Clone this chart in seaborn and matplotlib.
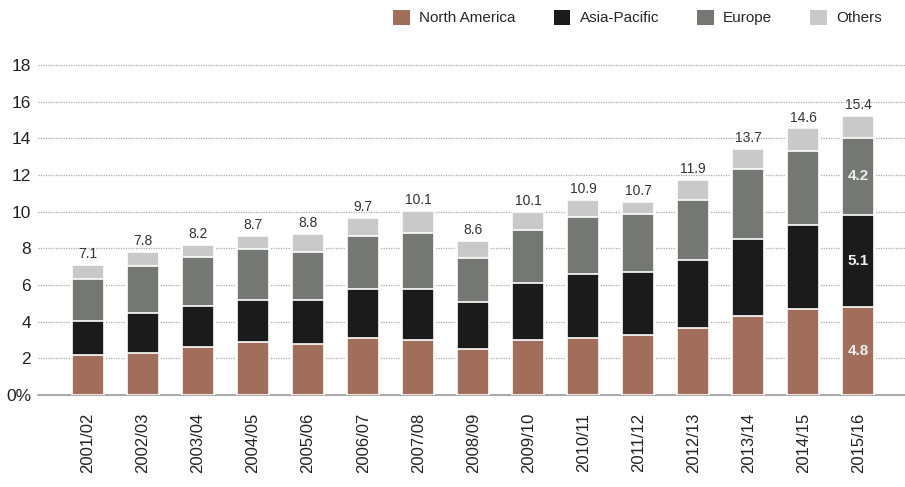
import numpy as np
import pandas as pd
import matplotlib
matplotlib.use("Agg")
import matplotlib.pyplot as plt
import seaborn as sns
from matplotlib.patches import Patch

# Data
seasons = ["2001/02", "2002/03", "2003/04", "2004/05", "2005/06", "2006/07", "2007/08",
           "2008/09", "2009/10", "2010/11", "2011/12", "2012/13", "2013/14", "2014/15", "2015/16"]
north_america = [2.2, 2.3, 2.6, 2.9, 2.8, 3.1, 3.0, 2.5, 3.0, 3.1, 3.25, 3.65, 4.3, 4.7, 4.8]
asia_pacific = [1.85, 2.15, 2.25, 2.3, 2.4, 2.7, 2.8, 2.55, 3.1, 3.5, 3.45, 3.7, 4.2, 4.6, 5.0]
europe = [2.3, 2.6, 2.7, 2.75, 2.6, 2.85, 3.05, 2.4, 2.9, 3.1, 3.2, 3.3, 3.85, 4.0, 4.25]
others = [0.75, 0.75, 0.65, 0.75, 1.0, 1.0, 1.2, 0.95, 1.0, 0.95, 0.65, 1.1, 1.1, 1.25, 1.2]
total_labels = ["7.1", "7.8", "8.2", "8.7", "8.8", "9.7", "10.1", "8.6", "10.1", "10.9",
                "10.7", "11.9", "13.7", "14.6", "15.4"]
last_segment_labels = ["4.8", "5.1", "4.2"]

series_names = ["North America", "Asia-Pacific", "Europe", "Others"]
colors = ["#a06e5a", "#1b1b1b", "#757773", "#c9c9c9"]

df = pd.DataFrame({"season": seasons, "North America": north_america,
                   "Asia-Pacific": asia_pacific, "Europe": europe, "Others": others})
cum = df[series_names].cumsum(axis=1)

sns.set_style("white")
plt.rcParams["font.family"] = ["Liberation Sans", "DejaVu Sans"]

fig = plt.figure(figsize=(9.05, 4.87), dpi=100)
ax = fig.add_axes([0.042, 0.189, 0.958, 0.696])

# draw from the top layer down so each stack overlays the previous one
for name, col in reversed(list(zip(series_names, colors))):
    sns.barplot(x=df["season"], y=cum[name], color=col, width=0.58,
                edgecolor="white", linewidth=1.2, saturation=1, ax=ax, zorder=3)

# totals above bars
for i, lab in enumerate(total_labels):
    ax.text(i, cum["Others"].iloc[i] + 0.2, lab, ha="center", va="bottom",
            fontsize=10, color="#333333")

# values inside last bar
last = len(seasons) - 1
bottoms = [0, cum["North America"].iloc[last], cum["Asia-Pacific"].iloc[last]]
tops = [cum["North America"].iloc[last], cum["Asia-Pacific"].iloc[last], cum["Europe"].iloc[last]]
for b, t, lab in zip(bottoms, tops, last_segment_labels):
    ax.text(last, (b + t) / 2, lab, ha="center", va="center", fontsize=11,
            color="#eeeeee", fontweight="bold")

ax.set_xlim(-0.91, 14.85)
ax.set_ylim(0, 18.5)
ax.set_yticks(range(0, 19, 2))
ax.set_yticklabels(["0%"] + [str(v) for v in range(2, 19, 2)], fontsize=12.5, color="#222222")
ax.tick_params(axis="y", length=0, pad=5)
ax.tick_params(axis="x", length=0, pad=13)
plt.setp(ax.get_xticklabels(), rotation=90, fontsize=12, color="#222222")
ax.set_xlabel("")
ax.set_ylabel("")

ax.yaxis.grid(True, linestyle=(0, (1, 1)), color="#aaaaaa", linewidth=0.9, zorder=0)
ax.set_axisbelow(True)
for s in ["top", "right", "left"]:
    ax.spines[s].set_visible(False)
ax.spines["bottom"].set_color("#999999")
ax.spines["bottom"].set_linewidth(1.2)

handles = [Patch(facecolor=c, edgecolor="none") for c in colors]
fig.legend(handles, series_names, loc="upper right", bbox_to_anchor=(0.99, 1.008),
           ncol=4, frameon=False, fontsize=11, handlelength=1.1, handleheight=1.1,
           columnspacing=2.5, handletextpad=0.6)

fig.savefig("out.png", dpi=100)
